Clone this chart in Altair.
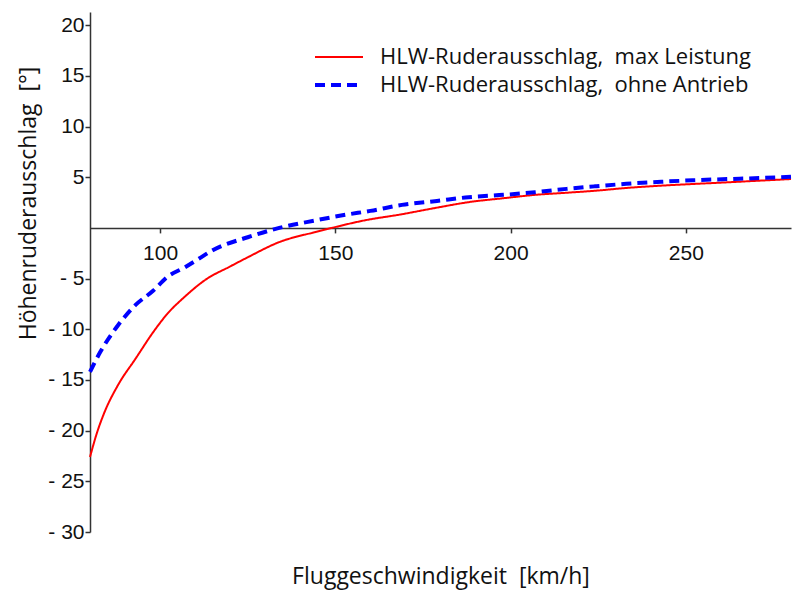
import altair as alt
import pandas as pd

# Elevator deflection vs. airspeed, two flight conditions
speed_max = [80, 82, 84, 88, 93, 98, 102, 107, 113, 120, 125, 134, 144, 149, 158,
             169, 179, 188, 198, 207, 216, 224, 233, 243, 252, 262, 271, 280]
defl_max = [-22.6, -20.2, -18.3, -15.5, -12.9, -10.3, -8.5, -6.8, -5.1, -3.8, -2.9,
            -1.4, -0.43, 0.0, 0.72, 1.35, 2.0, 2.54, 2.93, 3.26, 3.47, 3.66, 3.94,
            4.17, 4.33, 4.5, 4.66, 4.82]

speed_off = [80, 83, 88, 93, 98, 102, 107, 111, 115, 125, 134, 144, 153, 160, 169,
             179, 188, 198, 207, 216, 224, 233, 243, 252, 262, 271, 280]
defl_off = [-14.2, -12.2, -9.6, -7.6, -6.2, -4.85, -3.9, -3.05, -2.2, -0.92, 0.0,
            0.72, 1.3, 1.68, 2.27, 2.66, 3.03, 3.26, 3.52, 3.85, 4.1, 4.35, 4.55,
            4.7, 4.82, 4.92, 5.05]

series_names = ["HLW-Ruderausschlag,\u00a0 max Leistung",
                "HLW-Ruderausschlag,\u00a0 ohne Antrieb"]
series_colors = ["#ff0000", "#0000ff"]
series_dashes = [[1, 0], [10, 6]]
series_widths = [2, 4]

x_ticks = [100, 150, 200, 250]
y_ticks = [-30, -25, -20, -15, -10, -5, 5, 10, 15, 20]
x_domain = [80, 280]
y_domain = [-30, 21.3]

W, H = 701, 520

df = pd.concat([
    pd.DataFrame({"speed": speed_max, "deflection": defl_max, "series": series_names[0]}),
    pd.DataFrame({"speed": speed_off, "deflection": defl_off, "series": series_names[1]}),
])

# horizontal axis sits on the zero line of the deflection scale
zero_offset = -H * (0 - y_domain[0]) / (y_domain[1] - y_domain[0])

tick_font = "Liberation Sans"
text_font = "Open Sans"

# long horizontal line as legend symbol (path is scaled by sqrt(size)/2)
legend = alt.Legend(
    title=None, orient="none", legendX=238, legendY=34,
    symbolType="M-4,0H4", symbolSize=144, labelFont=text_font, labelFontSize=22,
    labelColor="#111", labelOffset=30, labelLimit=0, rowPadding=6, padding=0,
)

chart = alt.Chart(df).mark_line(interpolate="monotone").encode(
    x=alt.X("speed:Q",
            scale=alt.Scale(domain=x_domain, nice=False, zero=False),
            axis=alt.Axis(values=x_ticks, title="Fluggeschwindigkeit\u00a0 [km/h]",
                          offset=zero_offset, grid=False, tickSize=5,
                          labelPadding=10, labelFont=tick_font, labelFontSize=21,
                          labelColor="#111", titleFont=text_font, titleFontSize=23,
                          titleFontWeight="normal", titleColor="#111",
                          titleY=349, titleBaseline="middle",
                          domainColor="#333", tickColor="#333",
                          domainWidth=1.5, tickWidth=1.5)),
    y=alt.Y("deflection:Q",
            scale=alt.Scale(domain=y_domain, nice=False, zero=False),
            axis=alt.Axis(values=y_ticks, title="Höhenruderausschlag\u00a0 [°]",
                          labelExpr="datum.value < 0 ? '- ' + abs(datum.value) : '' + datum.value",
                          grid=False, tickSize=5, labelPadding=1,
                          labelFont=tick_font, labelFontSize=21, labelColor="#111",
                          titleFont=text_font, titleFontSize=23,
                          titleFontWeight="normal", titleColor="#111",
                          titleX=-62, titleY=191, titleBaseline="middle",
                          titleAlign="center", titleAngle=270,
                          domainColor="#333", tickColor="#333",
                          domainWidth=1.5, tickWidth=1.5)),
    color=alt.Color("series:N",
                    scale=alt.Scale(domain=series_names, range=series_colors),
                    legend=legend),
    strokeDash=alt.StrokeDash("series:N",
                              scale=alt.Scale(domain=series_names, range=series_dashes),
                              legend=legend),
    strokeWidth=alt.StrokeWidth("series:N",
                                scale=alt.Scale(domain=series_names, range=series_widths),
                                legend=legend),
).properties(
    width=W, height=H,
    autosize=alt.AutoSizeParams(type="none"),
    padding={"left": 90, "top": 12, "right": 20, "bottom": 60},
    background="white",
).configure_view(stroke=None)

chart.save("out.html", embed_options={"renderer": "svg", "actions": False})
